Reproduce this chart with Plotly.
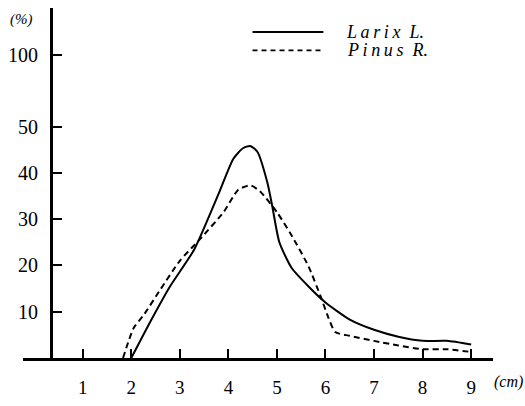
import plotly.graph_objects as go

# ---- data ----
larix_x = [2.0, 2.4, 2.8, 3.3, 3.8, 4.1, 4.3, 4.45, 4.6, 4.8, 4.9, 5.05, 5.3, 5.6, 6.0, 6.5, 7.0, 7.5, 8.0, 8.5, 9.0]
larix_y = [0, 8, 15.5, 23.5, 35.5, 43, 45.3, 45.8, 44.5, 38, 33, 25, 19.5, 16, 12, 8.3, 6.1, 4.6, 3.7, 3.7, 2.9]

pinus_x = [1.83, 2.05, 2.25, 2.6, 3.0, 3.4, 3.9, 4.2, 4.45, 4.65, 5.0, 5.3, 5.65, 5.9, 6.05, 6.2, 6.5, 7.0, 7.5, 8.0, 8.5, 9.0]
pinus_y = [0, 6.5, 9.2, 14.8, 21, 25.5, 31.5, 36.3, 37.3, 36, 31.5, 26.5, 19.8, 13.3, 9, 5.6, 4.8, 3.7, 2.7, 1.9, 1.9, 1.3]

x_ticks = [1, 2, 3, 4, 5, 6, 7, 8, 9]
x_ticktext = ["1", "2", "3", "4", "5", "6", "7", "8", "9"]
# y axis is broken above 50: the "100" mark sits at a compressed position
y_tickvals = [10, 20, 30, 40, 50, 65.4]
y_ticktext = ["10", "20", "30", "40", "50", "100"]

series_names = ["Larix L.", "Pinus R."]

SERIF = "Liberation Serif, Times New Roman, serif"

W, H = 525, 406
ML, MR, MT, MB = 22, 32, 8, 35
PW, PH = W - ML - MR, H - MT - MB


def px(x):
    return (x - ML) / PW


def py(y):
    return (H - MB - y) / PH


fig = go.Figure()
fig.add_trace(go.Scatter(
    x=larix_x, y=larix_y, mode="lines", name=series_names[0],
    line=dict(color="black", width=2, shape="spline", smoothing=0.6),
))
fig.add_trace(go.Scatter(
    x=pinus_x, y=pinus_y, mode="lines", name=series_names[1],
    line=dict(color="black", width=2, dash="6px,4px", shape="spline", smoothing=0.6),
))

fig.update_layout(
    width=W, height=H,
    margin=dict(l=ML, r=MR, t=MT, b=MB),
    paper_bgcolor="white", plot_bgcolor="white",
    showlegend=False,
    font=dict(family=SERIF, color="black"),
    xaxis=dict(
        range=[-0.23, 9.45], tickvals=x_ticks, ticktext=x_ticktext,
        ticks="inside", ticklen=9, tickwidth=1.5, tickcolor="black",
        showline=True, linewidth=2.5, linecolor="black",
        showgrid=False, zeroline=False,
        tickfont=dict(family=SERIF, size=19, color="black"),
        ticklabelstandoff=10,
    ),
    yaxis=dict(
        range=[0, 75.6], tickvals=y_tickvals, ticktext=y_ticktext,
        anchor="free", position=px(50),
        ticks="inside", ticklen=9, tickwidth=1.5, tickcolor="black",
        showline=True, linewidth=3, linecolor="black",
        showgrid=False, zeroline=False,
        tickfont=dict(family=SERIF, size=20, color="black"),
        ticklabelstandoff=8,
    ),
)

# legend drawn manually (long line samples as in the reference)
fig.add_shape(type="line", xref="paper", yref="paper",
              x0=px(252), x1=px(323), y0=py(33), y1=py(33),
              line=dict(color="black", width=2))
fig.add_shape(type="line", xref="paper", yref="paper",
              x0=px(252), x1=px(323), y0=py(52), y1=py(52),
              line=dict(color="black", width=1.8, dash="5px,4px"))

fig.add_annotation(xref="paper", yref="paper", x=px(344), y=py(33),
                   xanchor="left", yanchor="middle", showarrow=False,
                   text="<i>L\u2009a\u2009r\u2009i\u2009x\u2002L.</i>",
                   font=dict(family=SERIF, size=18, color="black"))
fig.add_annotation(xref="paper", yref="paper", x=px(345), y=py(52),
                   xanchor="left", yanchor="middle", showarrow=False,
                   text="<i>P\u2009i\u2009n\u2009u\u2009s\u2002R.</i>",
                   font=dict(family=SERIF, size=18, color="black"))

# axis unit labels
fig.add_annotation(xref="paper", yref="paper", x=px(20), y=py(20),
                   xanchor="center", yanchor="middle", showarrow=False,
                   text="<i>(%)</i>", font=dict(family=SERIF, size=15, color="black"))
fig.add_annotation(xref="paper", yref="paper", x=px(509), y=py(396),
                   xanchor="center", yanchor="middle", showarrow=False,
                   text="<i>(cm)</i>", font=dict(family=SERIF, size=16, color="black"))

fig.write_html(
    "out.html",
    config={"displayModeBar": False, "responsive": False},
    post_script=(
        "var h=document.documentElement,b=document.body;"
        "h.style.margin='0';h.style.padding='0';h.style.overflow='hidden';"
        "h.style.height='406px';"
        "b.style.margin='0';b.style.padding='0';b.style.overflow='hidden';"
        "b.style.height='406px';"
    ),
)
